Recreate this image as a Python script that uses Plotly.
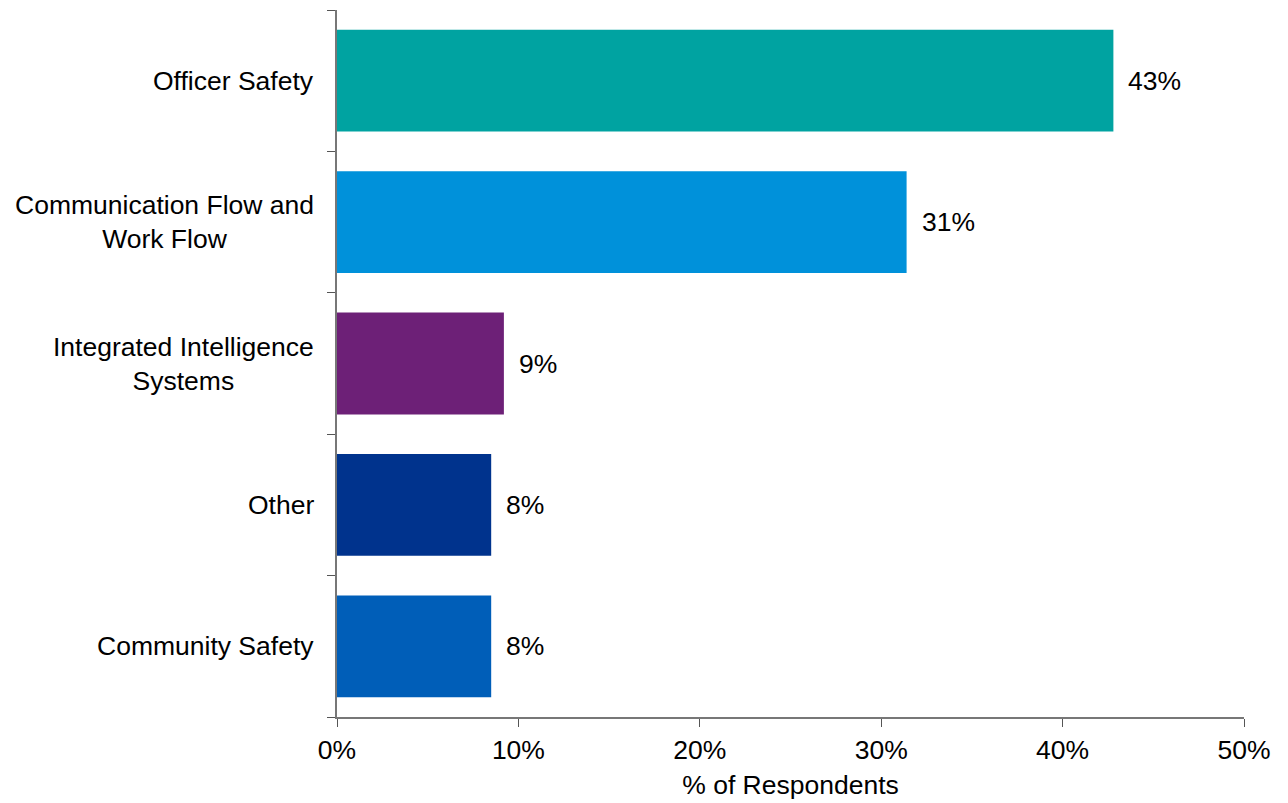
#!/usr/bin/env python3
"""
Horizontal bar chart: % of respondents by priority area.
"""

import plotly.graph_objects as go

# Data (top to bottom as shown)
categories = [
    'Officer Safety',
    'Communication Flow and<br>Work Flow',
    'Integrated Intelligence<br>Systems',
    'Other',
    'Community Safety',
]
values = [42.8, 31.4, 9.2, 8.5, 8.5]
value_labels = ['43%', '31%', '9%', '8%', '8%']
bar_colors = ['#00A3A1', '#0091DA', '#6D2077', '#00338D', '#005EB8']

x_tickvals = [0, 10, 20, 30, 40, 50]
x_ticktext = ['0%', '10%', '20%', '30%', '40%', '50%']

FONT = 'Liberation Sans, Arial, sans-serif'
FONT_SIZE = 26.5


def create_chart():
    fig = go.Figure()

    fig.add_trace(go.Bar(
        x=values,
        y=categories,
        orientation='h',
        marker=dict(color=bar_colors, line=dict(width=0)),
        hoverinfo='skip',
        showlegend=False
    ))

    # Category labels as annotations so multi-line text is centred
    for cat in categories:
        fig.add_annotation(
            x=0, xref='paper', y=cat, yref='y',
            text=cat, showarrow=False,
            xanchor='right', yanchor='middle', align='center',
            xshift=-21,
            font=dict(family=FONT, size=FONT_SIZE, color='#000000')
        )

    # Value labels just past the bar ends
    for cat, val, lab in zip(categories, values, value_labels):
        fig.add_annotation(
            x=val, xref='x', y=cat, yref='y',
            text=lab, showarrow=False,
            xanchor='left', yanchor='middle',
            xshift=13,
            font=dict(family=FONT, size=FONT_SIZE, color='#000000')
        )

    # page body has an 8px margin, so the figure is offset by 8px
    fig.update_layout(
        width=1280,
        height=795,
        margin=dict(l=329, r=44, t=2, b=86),
        plot_bgcolor='white',
        paper_bgcolor='white',
        bargap=0.28,
        font=dict(family=FONT, size=FONT_SIZE, color='#000000'),
    )

    fig.update_xaxes(
        range=[0, 50],
        tickvals=x_tickvals,
        ticktext=x_ticktext,
        ticks='outside',
        ticklen=8,
        tickwidth=1,
        tickcolor='#555555',
        showline=True,
        linecolor='#777777',
        linewidth=2,
        showgrid=False,
        zeroline=False,
        automargin=False,
        title=dict(text='% of Respondents', standoff=12,
                   font=dict(family=FONT, size=FONT_SIZE, color='#000000')),
        tickfont=dict(family=FONT, size=FONT_SIZE, color='#000000'),
        fixedrange=True
    )

    fig.update_yaxes(
        categoryorder='array',
        categoryarray=categories[::-1],
        autorange=True,
        showticklabels=False,
        ticks='outside',
        tickson='boundaries',
        ticklen=8,
        tickwidth=1,
        tickcolor='#555555',
        showline=True,
        linecolor='#777777',
        linewidth=2,
        showgrid=False,
        zeroline=False,
        automargin=False,
        fixedrange=True
    )

    return fig


def main():
    fig = create_chart()
    fig.write_html('out.html')


if __name__ == '__main__':
    main()
